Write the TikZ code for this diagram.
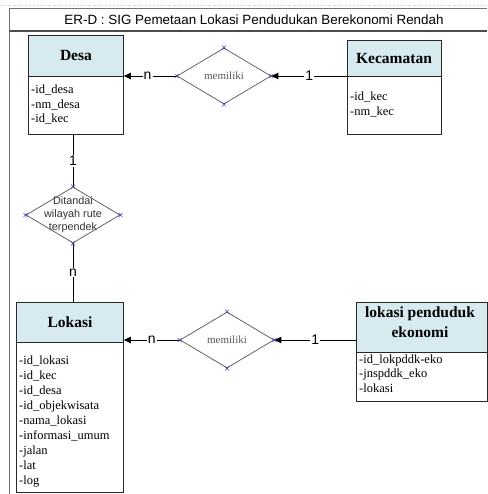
\documentclass[tikz,border=0pt]{standalone}
\usepackage{fontspec}
\setmainfont{Liberation Serif}
\setsansfont{Liberation Sans}
\usetikzlibrary{shapes.geometric,shapes.misc,arrows.meta}
\definecolor{hdr}{RGB}{214,234,240}
\definecolor{edge}{RGB}{40,40,40}
\definecolor{dedge}{RGB}{100,100,100}
\definecolor{mark}{RGB}{60,60,200}
\begin{document}
\begin{tikzpicture}[x=1pt,y=-1pt,
  hbox/.style={draw=edge,fill=hdr,line width=0.9pt,anchor=north west,inner sep=0pt},
  bbox/.style={draw=edge,fill=white,line width=0.9pt,anchor=north west,inner sep=0pt},
  ttl/.style={font=\fontsize{15.5}{17}\selectfont\bfseries,align=center,inner sep=0pt},
  attr/.style={font=\fontsize{12.5}{14.5}\selectfont,align=left,anchor=north west,inner sep=0pt},
  rel/.style={diamond,draw=dedge,line width=0.8pt,minimum width=94pt,minimum height=56pt,inner sep=0pt,aspect=1.68},
  reltxt/.style={font=\fontsize{11}{13}\selectfont,text=black!65},
  vx/.style={cross out,draw=mark,line width=0.5pt,minimum size=3.5pt,inner sep=0pt},
  card/.style={font=\sffamily\fontsize{14}{14}\selectfont,fill=white,inner sep=1pt},
  conn/.style={draw=black,line width=0.9pt},
  arr/.style={conn,-{Triangle[length=7pt,width=6.5pt]}}
]
\useasboundingbox (0,0) rectangle (487,494);
\fill[white] (0,0) rectangle (487,494);
% ruler line
\draw[black!20,dash pattern=on 1pt off 1.5pt] (0,5) -- (487,5);
% frame
\draw[black!55,line width=0.6pt] (487,8) -- (9,8) -- (9,494);
\draw[black!70,line width=1.4pt] (9,31) -- (487,31);
\node[font=\sffamily\fontsize{13.4}{14}\selectfont,inner sep=0pt] (title) at (254,20) {ER-D : SIG Pemetaan Lokasi Pendudukan Berekonomi Rendah};

% Desa
\node[hbox,minimum width=95pt,minimum height=41pt] (desaH) at (28,35) {};
\node[bbox,minimum width=95pt,minimum height=58pt] (desaB) at (28,76) {};
\node[ttl] (desaT) at (desaH.center) {Desa};
\node[attr] (desaA) at (31,85) {-id\_desa\\-nm\_desa\\-id\_kec};

% Kecamatan
\node[hbox,minimum width=94pt,minimum height=36pt] (kecH) at (347,40) {};
\node[bbox,minimum width=94pt,minimum height=58pt] (kecB) at (347,76) {};
\node[ttl] (kecT) at (394,59) {Kecamatan};
\node[attr] (kecA) at (350,92) {-id\_kec\\-nm\_kec};

% Lokasi
\node[hbox,minimum width=107pt,minimum height=40pt] (lokH) at (16,302) {};
\node[bbox,minimum width=107pt,minimum height=150pt] (lokB) at (16,342) {};
\node[ttl] (lokT) at (lokH.center) {Lokasi};
\node[attr,font=\fontsize{12.5}{15}\selectfont] (lokA) at (19,356) {-id\_lokasi\\-id\_kec\\-id\_desa\\-id\_objekwisata\\-nama\_lokasi\\-informasi\_umum\\-jalan\\-lat\\-log};

% lokasi penduduk ekonomi
\node[hbox,minimum width=131pt,minimum height=50pt] (lpeH) at (356,302) {};
\node[bbox,minimum width=131pt,minimum height=49pt] (lpeB) at (356,352) {};
\node[ttl,font=\fontsize{15.5}{20}\selectfont\bfseries] (lpeT) at (420,322) {lokasi penduduk\\ekonomi};
\node[attr] (lpeA) at (359,354.5) {-id\_lokpddk-eko\\-jnspddk\_eko\\-lokasi};

% relationships
\node[rel] (d1) at (224,76) {};
\node[reltxt] (d1t) at (d1.center) {memiliki};
\node[rel] (d2) at (73,215) {};
\node[font=\sffamily\fontsize{10.8}{13}\selectfont,align=center,inner sep=0pt,text=black!80] (d2t) at (d2.center) {Ditandai\\wilayah rute\\terpendek};
\node[rel] (d3) at (227,340) {};
\node[reltxt] (d3t) at (d3.center) {memiliki};

% connectors
\draw[arr] (d1.west) -- node[card,pos=0.55] (c1) {n} (d1.west -| desaB.east);
\draw[arr] (kecB.north west) -- node[card,pos=0.5] (c2) {1} (d1.east);
\draw[conn] (d2.north |- desaB.south) -- node[card,pos=0.5] (c3) {1} (d2.north);
\draw[conn] (d2.south) -- node[card,pos=0.5] (c4) {n} (d2.south |- lokH.north);
\draw[arr] (d3.west) -- node[card,pos=0.5] (c5) {n} (d3.west -| lokH.east);
\draw[arr] (d3.east -| lpeH.west) -- node[card,pos=0.5] (c6) {1} (d3.east);

% vertex markers
\foreach \d in {d1,d2,d3}{
  \foreach \a in {north,south,east,west}{
    \node[vx] (\d-\a) at (\d.\a) {};
  }
}
\end{tikzpicture}
\end{document}
